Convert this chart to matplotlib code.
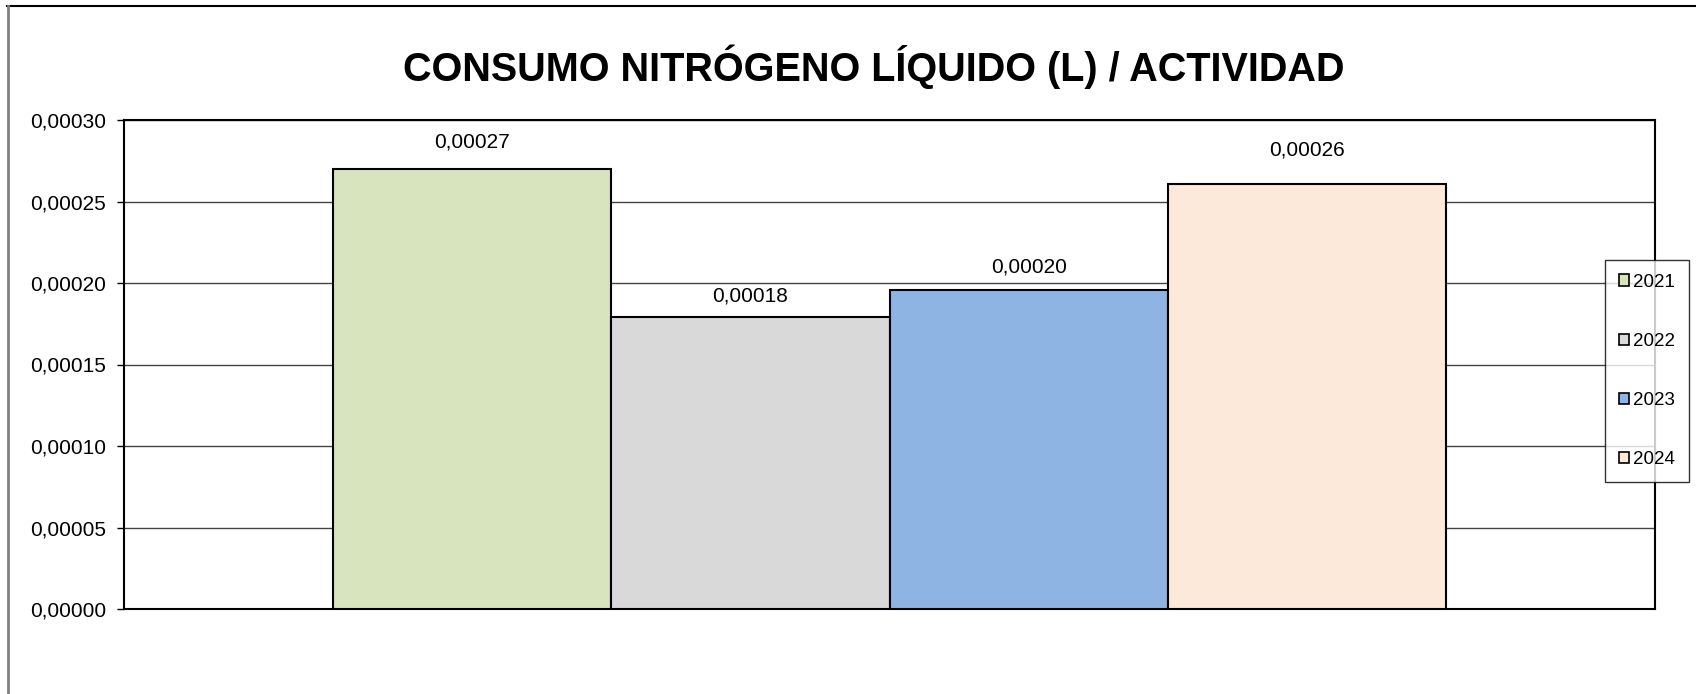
import matplotlib
matplotlib.use("Agg")
import matplotlib.pyplot as plt
from matplotlib.patches import Patch
from matplotlib.lines import Line2D
import numpy as np

plt.rcParams['font.family'] = ['Liberation Sans', 'DejaVu Sans']

title = "CONSUMO NITRÓGENO LÍQUIDO (L) / ACTIVIDAD"
series = ["2021", "2022", "2023", "2024"]
values = [0.000270, 0.000179, 0.000196, 0.000261]
colors = ["#D7E4BD", "#D9D9D9", "#8EB4E3", "#FDE9D9"]
yticks = [0.0, 0.00005, 0.00010, 0.00015, 0.00020, 0.00025, 0.00030]
label_offsets_pt = [19.5, 15.6, 16.3, 24.5]

W, H = 1696, 694
fig = plt.figure(figsize=(W / 100, H / 100), dpi=100)
ax = fig.add_axes([124 / W, 1 - 609 / H, (1655 - 124) / W, (609 - 120) / H])

n = len(series)
gap = 1.5
bw = 1.0 / (n + gap)
offsets = (np.arange(n) - (n - 1) / 2) * bw
for i in range(n):
    ax.bar(offsets[i], values[i], width=bw, color=colors[i], edgecolor="black",
           linewidth=1.5, zorder=3, label=series[i])
    ax.annotate(f"{values[i]:.5f}".replace(".", ","), (offsets[i], values[i]),
                xytext=(0, label_offsets_pt[i]), textcoords="offset points",
                ha="center", va="center", fontsize=15)

ax.set_xlim(-0.5, 0.5)
ax.set_ylim(0, 0.0003)
ax.set_yticks(yticks)
ax.set_yticklabels([f"{t:.5f}".replace(".", ",") for t in yticks], fontsize=15)
ax.set_xticks([])
ax.yaxis.grid(True, color="#444444", linewidth=1, zorder=0)
ax.tick_params(axis="y", direction="out", length=5, width=1, pad=8)
for s in ax.spines.values():
    s.set_linewidth(1.5)
    s.set_color("black")
ax.set_axisbelow(True)

fig.text(874 / W, 1 - 67 / H, title, ha="center", va="center", fontsize=28.5,
         fontweight="bold")

handles = [Patch(facecolor=colors[i], edgecolor="black", linewidth=1.2) for i in range(n)]
leg = fig.legend(handles, series, loc="center left",
                 bbox_to_anchor=(1605 / W, 1 - 371 / H), fontsize=13.5,
                 frameon=True, fancybox=False, handlelength=0.55, handleheight=0.55,
                 handletextpad=0.18, labelspacing=2.25, borderpad=0.75,
                 borderaxespad=0)
leg.get_frame().set_edgecolor("black")
leg.get_frame().set_linewidth(1)

fig.add_artist(Line2D([7 / W, 1], [1 - 6 / H, 1 - 6 / H], color="black", linewidth=1.5,
                      transform=fig.transFigure))
fig.add_artist(Line2D([7.5 / W, 7.5 / W], [0, 1 - 6 / H], color="#808080", linewidth=2,
                      transform=fig.transFigure))

fig.savefig("out.png", dpi=100)
